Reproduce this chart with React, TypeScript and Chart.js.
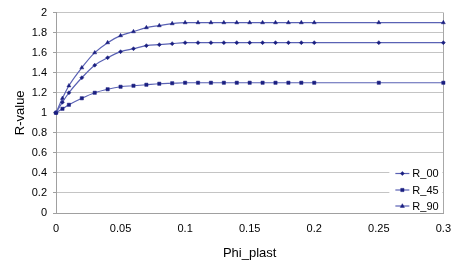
import React, { useEffect, useRef } from "react";
import { Chart, registerables } from "chart.js";

Chart.register(...registerables);

const xValues = [0, 0.005, 0.01, 0.02, 0.03, 0.04, 0.05, 0.06, 0.07, 0.08, 0.09, 0.1, 0.11, 0.12, 0.13, 0.14, 0.15, 0.16, 0.17, 0.18, 0.19, 0.2, 0.25, 0.3];
const r00 = [1, 1.105, 1.2, 1.35, 1.475, 1.55, 1.61, 1.64, 1.67, 1.68, 1.69, 1.7, 1.7, 1.7, 1.7, 1.7, 1.7, 1.7, 1.7, 1.7, 1.7, 1.7, 1.7, 1.7];
const r45 = [1, 1.04, 1.08, 1.145, 1.2, 1.235, 1.26, 1.27, 1.28, 1.29, 1.295, 1.3, 1.3, 1.3, 1.3, 1.3, 1.3, 1.3, 1.3, 1.3, 1.3, 1.3, 1.3, 1.3];
const r90 = [1, 1.145, 1.27, 1.45, 1.6, 1.7, 1.77, 1.81, 1.85, 1.87, 1.89, 1.9, 1.9, 1.9, 1.9, 1.9, 1.9, 1.9, 1.9, 1.9, 1.9, 1.9, 1.9, 1.9];
const seriesNames = ["R_00", "R_45", "R_90"];
const pointStyles = ["rectRot", "rect", "triangle"];
const pointSizes = [2, 2.3, 2.3];
const xTickLabels = ["0", "0.05", "0.1", "0.15", "0.2", "0.25", "0.3"];
const yTickLabels = ["0", "0.2", "0.4", "0.6", "0.8", "1", "1.2", "1.4", "1.6", "1.8", "2"];

const FONT = "'Liberation Sans', Arial, sans-serif";
const LINE = "#5a62b4";
const MARK = "#1a1f80";

function drawMarker(ctx: CanvasRenderingContext2D, style: string, x: number, y: number, r: number) {
  ctx.beginPath();
  if (style === "rect") {
    const s = Math.SQRT1_2 * r;
    ctx.rect(x - s, y - s, 2 * s, 2 * s);
  } else if (style === "rectRot") {
    ctx.moveTo(x, y - r);
    ctx.lineTo(x + r, y);
    ctx.lineTo(x, y + r);
    ctx.lineTo(x - r, y);
    ctx.closePath();
  } else {
    ctx.moveTo(x, y - r);
    ctx.lineTo(x + r * 0.9, y + r * 0.6);
    ctx.lineTo(x - r * 0.9, y + r * 0.6);
    ctx.closePath();
  }
  ctx.fill();
  ctx.stroke();
}

const legendPlugin = {
  id: "insideLegend",
  beforeDatasetsDraw(chart: any) {
    const { ctx, chartArea } = chart;
    ctx.save();
    ctx.strokeStyle = "#a8a8a8";
    ctx.lineWidth = 1;
    ctx.beginPath();
    ctx.moveTo(Math.round(chartArea.right) + 0.5, chartArea.top);
    ctx.lineTo(Math.round(chartArea.right) + 0.5, chartArea.bottom);
    ctx.stroke();
    ctx.restore();
  },
  afterDatasetsDraw(chart: any) {
    const { ctx, chartArea } = chart;
    ctx.save();
    const x0 = chartArea.right - 54;
    ctx.fillStyle = "#ffffff";
    ctx.fillRect(x0, chartArea.bottom - 50, 53, 49);
    const rows = [173.5, 190, 206];
    seriesNames.forEach((name, i) => {
      const y = rows[i];
      ctx.strokeStyle = LINE;
      ctx.lineWidth = 1.2;
      ctx.beginPath();
      ctx.moveTo(x0 + 6, y);
      ctx.lineTo(x0 + 20, y);
      ctx.stroke();
      ctx.fillStyle = MARK;
      ctx.strokeStyle = MARK;
      ctx.lineWidth = 0.5;
      drawMarker(ctx, pointStyles[i], x0 + 13, y, pointSizes[i]);
      ctx.fillStyle = "#000000";
      ctx.font = `11px ${FONT}`;
      ctx.textBaseline = "middle";
      ctx.textAlign = "left";
      ctx.fillText(name, x0 + 23, y + 0.5);
    });
    ctx.restore();
  },
};

export default function App() {
  const ref = useRef<HTMLCanvasElement>(null);
  useEffect(() => {
    if (!ref.current) return;
    const seriesData = [r00, r45, r90];
    const chart = new Chart(ref.current, {
      type: "line",
      data: {
        datasets: seriesData.map((vals, i) => ({
          label: seriesNames[i],
          data: xValues.map((x, j) => ({ x, y: vals[j] })),
          borderColor: LINE,
          borderWidth: 1.2,
          backgroundColor: MARK,
          pointBackgroundColor: MARK,
          pointBorderColor: MARK,
          pointBorderWidth: 0.5,
          pointStyle: pointStyles[i] as any,
          pointRadius: pointSizes[i],
          cubicInterpolationMode: "monotone" as const,
          fill: false,
          clip: false as any,
        })),
      },
      options: {
        animation: false,
        responsive: true,
        maintainAspectRatio: false,
        devicePixelRatio: 1,
        layout: { padding: { top: 10, right: 13, left: 0, bottom: 0 } },
        plugins: {
          legend: { display: false },
          tooltip: { enabled: false },
        },
        scales: {
          x: {
            type: "linear",
            min: 0,
            max: 0.3,
            ticks: {
              stepSize: 0.05,
              color: "#000",
              font: { family: FONT, size: 11 },
              padding: 6,
              maxRotation: 0,
              callback: (_v: any, i: number) => xTickLabels[i],
            },
            grid: { display: false, drawTicks: true, tickLength: 3, tickColor: "#a0a0a0" },
            border: { display: true, color: "#a0a0a0" },
            title: {
              display: true,
              text: "Phi_plast",
              color: "#000",
              font: { family: FONT, size: 13 },
              padding: { top: 3, bottom: 0 },
            },
            afterFit: (s: any) => {
              s.height = 48;
            },
          },
          y: {
            min: 0,
            max: 2,
            ticks: {
              stepSize: 0.2,
              color: "#000",
              font: { family: FONT, size: 11 },
              padding: 6,
              callback: (_v: any, i: number) => yTickLabels[i],
            },
            grid: { color: "#c4c4c4", drawTicks: true, tickLength: 3, tickColor: "#a0a0a0" },
            border: { display: true, color: "#a0a0a0" },
            title: {
              display: true,
              text: "R-value",
              color: "#000",
              font: { family: FONT, size: 13 },
              padding: { top: 13, bottom: 0 },
            },
            afterFit: (s: any) => {
              s.width = 56;
            },
          },
        },
      },
      plugins: [legendPlugin],
    });
    return () => chart.destroy();
  }, []);
  return (
    <div style={{ position: "fixed", left: 0, top: 0, width: 457, height: 261, background: "#fff" }}>
      <canvas ref={ref} />
    </div>
  );
}
